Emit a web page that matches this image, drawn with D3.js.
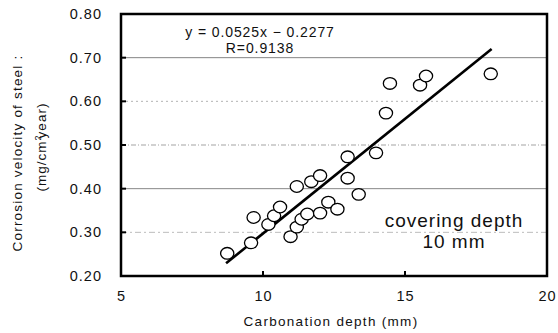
<!DOCTYPE html>
<html><head><meta charset="utf-8">
<script src="https://cdn.jsdelivr.net/npm/d3@7"></script>
<style>body{margin:0;background:#fff}svg{display:block}text{font-family:"Liberation Sans",Arial,sans-serif;fill:#111}</style>
</head><body><svg id="c" width="558" height="333"></svg>
<script>
const depthX = [8.74,9.58,9.67,10.19,10.39,10.60,11.19,11.70,12.01,10.97,11.19,11.36,11.56,12.01,12.30,12.62,12.98,12.98,13.37,13.98,14.33,14.47,15.53,15.74,18.02];
const corrY  = [0.252,0.276,0.334,0.318,0.338,0.358,0.405,0.416,0.430,0.290,0.312,0.330,0.342,0.344,0.369,0.353,0.424,0.473,0.387,0.482,0.573,0.641,0.637,0.658,0.663];
const xTicks = [5,10,15,20];
const yTicks = [0.20,0.30,0.40,0.50,0.60,0.70,0.80];
const slope = 0.0525, intercept = -0.2277, fitRange = [8.7,18.05];

const svg = d3.select("#c");
const L=121,R=547,T=14,B=276;
const x = d3.scaleLinear().domain([5,20]).range([L,R]);
const y = d3.scaleLinear().domain([0.2,0.8]).range([B,T]);

// gridlines
const gridStyle = {0.3:["#aaa","6 3 2 3",0.8],0.4:["#888",null,1],0.5:["#999","5 2 1 2",0.9],0.6:["#aaa","2 3",0.9],0.7:["#666",null,0.8]};
svg.append("g").selectAll("line").data(yTicks.filter(v=>v>0.25&&v<0.75)).join("line")
  .attr("x1",L).attr("x2",R).attr("y1",d=>y(d)).attr("y2",d=>y(d))
  .attr("stroke",d=>gridStyle[d.toFixed(1)][0]).attr("stroke-dasharray",d=>gridStyle[d.toFixed(1)][1])
  .attr("stroke-width",d=>gridStyle[d.toFixed(1)][2]);

// axes
const yAxis = d3.axisLeft(y).tickValues(yTicks).tickFormat(d3.format(".2f")).tickSize(0).tickPadding(19);
const gy = svg.append("g").attr("transform",`translate(${L},0)`).call(yAxis);
gy.select(".domain").remove();
gy.selectAll("text").style("font-size","14.5px").style("letter-spacing","1px");
const xAxis = d3.axisBottom(x).tickValues(xTicks).tickFormat(d3.format("d")).tickSize(0).tickPadding(15);
const gx = svg.append("g").attr("transform",`translate(0,${B})`).call(xAxis);
gx.select(".domain").remove();
gx.selectAll("text").style("font-size","14.5px").style("letter-spacing","1px");

// inward ticks
svg.append("g").selectAll("line").data(yTicks.slice(1,-1)).join("line")
  .attr("x1",L).attr("x2",L+5).attr("y1",d=>y(d)).attr("y2",d=>y(d)).attr("stroke","#000").attr("stroke-width",2);
svg.append("g").selectAll("line").data(xTicks.slice(1,-1)).join("line")
  .attr("x1",d=>x(d)).attr("x2",d=>x(d)).attr("y1",B).attr("y2",B-5).attr("stroke","#000").attr("stroke-width",2);

// frame
svg.append("rect").attr("x",L).attr("y",T).attr("width",R-L).attr("height",B-T)
  .attr("fill","none").attr("stroke","#000").attr("stroke-width",2.5);

// fit line
svg.append("line").attr("x1",x(fitRange[0])).attr("y1",y(slope*fitRange[0]+intercept))
  .attr("x2",x(fitRange[1])).attr("y2",y(slope*fitRange[1]+intercept))
  .attr("stroke","#000").attr("stroke-width",2.6);

// points
svg.append("g").selectAll("ellipse").data(depthX.map((d,i)=>[d,corrY[i]])).join("ellipse")
  .attr("cx",d=>x(d[0])).attr("cy",d=>y(d[1])).attr("rx",6.6).attr("ry",5.8)
  .attr("fill","#fff").attr("stroke","#000").attr("stroke-width",1.3);

// annotations
svg.append("text").attr("x",260).attr("y",37).attr("text-anchor","middle").style("font-size","14px").style("letter-spacing","0.9px").text("y = 0.0525x  \u2212 0.2277");
svg.append("text").attr("x",260).attr("y",53).attr("text-anchor","middle").style("font-size","14px").style("letter-spacing","0.9px").text("R=0.9138");
svg.append("text").attr("x",454).attr("y",227).attr("text-anchor","middle").style("font-size","19px").style("letter-spacing","1px").text("covering depth");
svg.append("text").attr("x",454).attr("y",248).attr("text-anchor","middle").style("font-size","19px").style("letter-spacing","1px").text("10 mm");

// axis titles
svg.append("text").attr("x",331).attr("y",326).attr("text-anchor","middle").style("font-size","13.5px").style("letter-spacing","1.3px").text("Carbonation depth (mm)");
svg.append("text").attr("transform","translate(22,153) rotate(-90)").attr("text-anchor","middle").style("font-size","13.5px").style("letter-spacing","1.2px").text("Corrosion velocity of steel :");
const t2 = svg.append("text").attr("transform","translate(46,147) rotate(-90)").attr("text-anchor","middle").style("font-size","13.5px").style("letter-spacing","1px");
t2.append("tspan").text("(mg/cm");
t2.append("tspan").attr("dy","-5").style("font-size","9px").text("2");
t2.append("tspan").attr("dy","5").attr("dx","-4").text("year)");
</script></body></html>
